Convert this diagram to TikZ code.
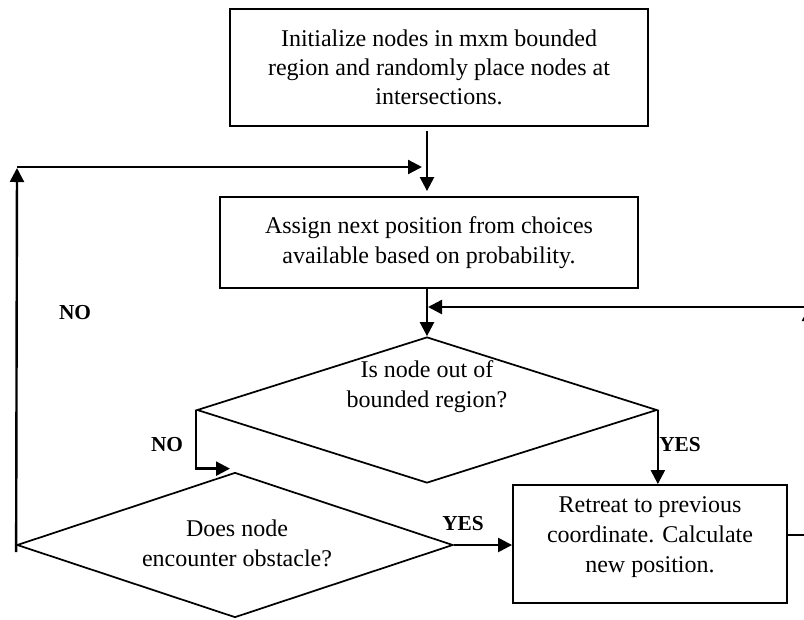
\documentclass[tikz,border=0pt]{standalone}
\usepackage{fontspec}
\setmainfont{Liberation Serif}
\usetikzlibrary{shapes.geometric,arrows.meta,calc}
\begin{document}
\begin{tikzpicture}[x=0.75pt,y=-0.75pt,
  box/.style={draw, line width=1.4pt, align=center, inner sep=0pt,
    font=\fontsize{18}{22}\selectfont},
  dia/.style={draw, diamond, line width=1.3pt, inner sep=0pt, aspect=3},
  txt/.style={align=center, inner sep=0pt, font=\fontsize{18}{22.5}\selectfont},
  lbl/.style={inner sep=0pt, font=\fontsize{16}{18}\selectfont\bfseries},
  arr/.style={line width=1.8pt, -{Triangle[length=10.5pt,width=10.5pt]}},
  ln/.style={line width=1.8pt}]
\useasboundingbox (0,0) rectangle (804,619);
\clip (0,0) rectangle (804,619);

\node[box, minimum width=313.5pt, minimum height=87.75pt] (init) at (439,67.5)
  {Initialize nodes in mxm bounded\\region and randomly place nodes at\\intersections.};
\node[box, minimum width=313.5pt, minimum height=68.25pt] (assign) at (429,242.5)
  {Assign next position from choices\\available based on probability.};
\node[box, minimum width=205.5pt, minimum height=88.5pt] (retreat) at (650,544)
  {};
\node[txt] (retreattxt) at (650,537) {Retreat to previous\\coordinate. Calculate\\new position.};

\node[dia, minimum width=345pt, minimum height=109.5pt] (out) at (427,410) {};
\node[txt] (outtxt) at (427,387) {Is node out of\\bounded region?};
\node[dia, minimum width=327pt, minimum height=108.75pt] (obs) at (235,545) {};
\node[txt] (obstxt) at (237,543) {Does node\\encounter obstacle?};

\coordinate (ax) at (427,0);
\coordinate (lp) at (17,168);
\coordinate (rc1) at (809,535);
\coordinate (rc2) at (809,307);
\coordinate (rc3) at (806,307);

% init -> assign
\draw[arr] ($(init.south -| ax)+(0,4)$) -- ($(assign.north -| ax)+(0,-5)$);
% loop from obstacle NO back to assign
\draw[arr] ($(obs.west)+(0,7)$) -- (lp);
\draw[arr] ($(lp)+(0,-1)$) -- ($(ax |- lp)+(-5,-1)$);
% assign -> out
\draw[arr] (assign.south -| ax) -- (out.north);
% out YES -> retreat
\draw[arr] (out.east) -- (out.east |- retreat.north);
% out NO -> obstacle
\draw[arr] (out.west) |- ($(obs.north)+(-5,-3)$);
% obstacle YES -> retreat
\draw[arr] (obs.east) -- (obs.east -| retreat.west);
% retreat -> back to out
\draw[ln] (retreat.east |- rc1) -- (rc1);
\draw[arr] (rc1) -- (rc2);
\draw[arr] (rc3) -- ($(ax |- rc3)+(1,0)$);

\node[lbl] (no1) at (75,313) {NO};
\node[lbl] (no2) at (167,445) {NO};
\node[lbl] (yes1) at (680,445) {YES};
\node[lbl] (yes2) at (463,524) {YES};
\end{tikzpicture}
\end{document}
